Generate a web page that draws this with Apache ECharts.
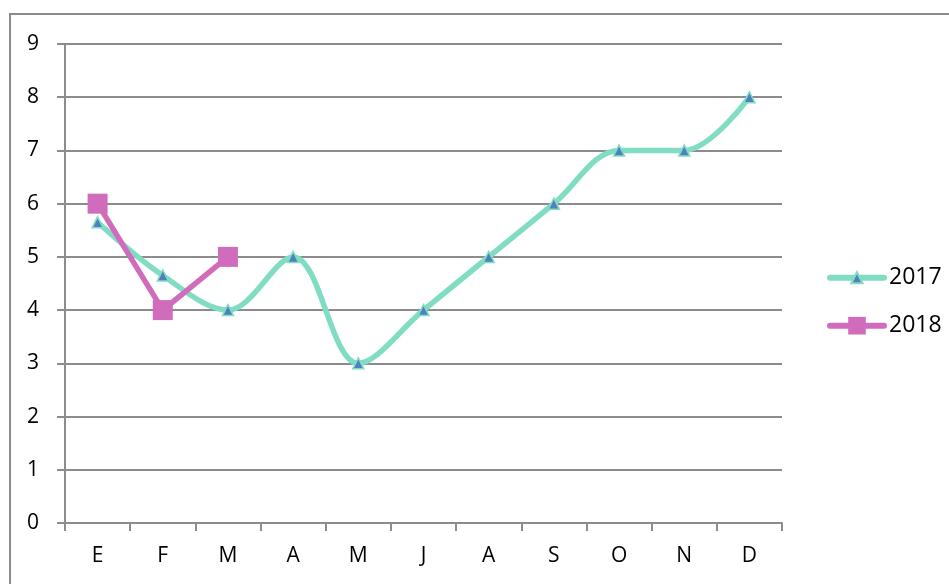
<!DOCTYPE html>
<html><head><meta charset="utf-8">
<script src="https://cdn.jsdelivr.net/npm/echarts@6/dist/echarts.min.js"></script>
<style>html,body{margin:0;padding:0;background:#fff}#c{width:949px;height:584px}</style>
</head><body><div id="c"></div>
<script>
const categories = ['E','F','M','A','M','J','A','S','O','N','D'];
const s2017 = [5.65,4.65,4,5,3,4,5,6,7,7,8];
const s2018 = [6,4,5];
const yTicks = [0,1,2,3,4,5,6,7,8,9];
const chart = echarts.init(document.getElementById('c'));
const font = '"Open Sans", Lato, sans-serif';
const legText = {fontFamily:font,fontSize:23,color:'#000'};
chart.setOption({
  animation:false,
  backgroundColor:'#fff',
  graphic:[{type:'rect',shape:{x:10,y:14,width:1000,height:700},style:{fill:'none',stroke:'#8c8c8c',lineWidth:2},silent:true}],
  grid:{left:65,right:167,top:44,bottom:61},
  legend:[
    {orient:'vertical',left:822,top:275,itemWidth:54,itemHeight:14,itemGap:0,textStyle:legText,
     data:[{name:'2017',lineStyle:{width:6,color:'#80dcc3',cap:'round'}}]},
    {orient:'vertical',left:822,top:323,itemWidth:54,itemHeight:22,itemGap:0,textStyle:legText,
     data:[{name:'2018',lineStyle:{width:6,color:'#d16bbc',cap:'round'}}]}
  ].map(l=>Object.assign(l,{top:l.top-l.itemHeight/2-((23*1.2-l.itemHeight)>0?(23*1.2-l.itemHeight)/2:0)})),
  xAxis:{type:'category',data:categories,boundaryGap:true,
    axisLine:{lineStyle:{color:'#8c8c8c',width:2}},
    axisTick:{show:true,length:8,lineStyle:{color:'#8c8c8c',width:2}},
    axisLabel:{fontFamily:font,fontSize:21,color:'#000',margin:23}},
  yAxis:{type:'value',min:0,max:9,interval:1,
    axisLine:{show:true,lineStyle:{color:'#8c8c8c',width:2}},
    axisTick:{show:true,length:8,lineStyle:{color:'#8c8c8c',width:2}},
    splitLine:{lineStyle:{color:'#8c8c8c',width:2}},
    axisLabel:{fontFamily:font,fontSize:21,color:'#000',margin:26}},
  series:[
    {name:'2017',type:'line',data:s2017,smooth:0.35,
      lineStyle:{color:'#80dcc3',width:5.5},
      itemStyle:{color:'#4f81bd',borderColor:'#80dcc3',borderWidth:1.5},
      symbol:'triangle',symbolSize:11,z:2},
    {name:'2018',type:'line',data:s2018,smooth:false,
      lineStyle:{color:'#d16bbc',width:5.5},
      itemStyle:{color:'#d16bbc'},
      symbol:'rect',symbolSize:20,z:3}
  ]
});
</script></body></html>
